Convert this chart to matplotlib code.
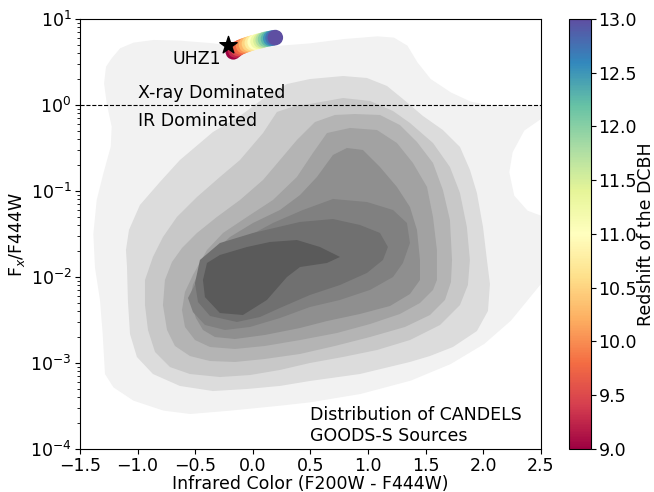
import numpy as np
import matplotlib
matplotlib.use("Agg")
import matplotlib.pyplot as plt
from matplotlib.colors import Normalize

# ----------------- Data -----------------
# KDE contour outlines of CANDELS GOODS-S sources, outermost level first
# x = infrared colour (F200W - F444W), ly = log10(Fx/F444W)
lvl1_x = [-1.225, -1.152, -1.036, -0.862, -0.630, -0.341, -0.051, 0.239, 0.5, 0.790, 1.080, 1.225, 1.341,
          1.428, 1.543, 1.717, 1.891, 2.123, 2.297, 2.5, 2.5, 2.355, 2.254, 2.225, 2.268, 2.384, 2.5, 2.5,
          2.239, 2.007, 1.717, 1.370, 0.935, 0.5, 0.239, -0.196, -0.543, -0.775, -1.036, -1.210, -1.283,
          -1.303, -1.326, -1.370, -1.384, -1.355, -1.297, -1.233, -1.225, -1.268, -1.291, -1.274]
lvl1_ly = [0.543, 0.659, 0.725, 0.756, 0.748, 0.717, 0.659, 0.690, 0.717, 0.767, 0.798, 0.783, 0.690,
           0.496, 0.302, 0.147, 0.039, -0.019, -0.019, -0.004, -0.163, -0.298, -0.550, -0.783, -1.054, -1.229,
           -1.287, -2.081, -2.508, -2.779, -3.012, -3.205, -3.360, -3.457, -3.496, -3.554, -3.593, -3.554,
           -3.438, -3.283, -3.128, -2.663, -2.275, -1.888, -1.5, -1.105, -0.795, -0.484, -0.252, 0.019,
           0.252, 0.446]

lvl2_x = [-1.101, -1.075, -0.980, -0.806, -0.633, -0.346, -0.112, 0.122, 0.296, 0.495, 0.782, 0.990, 1.164,
          1.302, 1.476, 1.649, 1.797, 1.884, 1.944, 1.997, 2.031, 2.057, 2.040, 1.944, 1.736, 1.536, 1.363,
          0.929, 0.495, 0.234, -0.051, -0.346, -0.633, -0.867, -1.006, -1.066, -1.084, -1.092]
lvl2_ly = [-1.686, -1.453, -1.163, -0.895, -0.640, -0.314, -0.128, 0.105, 0.244, 0.302, 0.337, 0.314, 0.221,
           0.070, -0.128, -0.291, -0.488, -0.756, -1.023, -1.419, -1.802, -2.081, -2.395, -2.628, -2.814,
           -2.919, -2.988, -3.128, -3.209, -3.267, -3.302, -3.326, -3.267, -3.128, -2.930, -2.663, -2.279,
           -1.884]

lvl3_x = [0.088, 0.209, 0.365, 0.495, 0.782, 1.016, 1.216, 1.363, 1.563, 1.710, 1.797, 1.857, 1.883, 1.866,
          1.797, 1.624, 1.363, 1.077, 0.782, 0.495, 0.235, -0.025, -0.286, -0.546, -0.719, -0.849, -0.910,
          -0.936, -0.936, -0.867, -0.780, -0.659, -0.485, -0.286, -0.112]
lvl3_ly = [-0.326, -0.081, -0.012, 0.012, 0.081, 0.047, -0.070, -0.209, -0.442, -0.721, -1.023, -1.419,
           -1.802, -2.093, -2.326, -2.558, -2.733, -2.849, -2.930, -3.000, -3.081, -3.140, -3.163, -3.128,
           -3.047, -2.872, -2.616, -2.326, -2.035, -1.767, -1.535, -1.302, -1.070, -0.837, -0.640]

lvl4_x = [0.382, 0.539, 0.712, 0.886, 1.103, 1.276, 1.424, 1.563, 1.649, 1.710, 1.728, 1.719, 1.667, 1.537,
          1.320, 1.016, 0.712, 0.409, 0.105, -0.155, -0.372, -0.546, -0.676, -0.745, -0.780, -0.763, -0.702,
          -0.615, -0.485, -0.312, -0.112, 0.088, 0.235]
lvl4_ly = [-0.407, -0.198, -0.116, -0.105, -0.116, -0.233, -0.430, -0.674, -0.988, -1.337, -1.802, -2.058,
           -2.267, -2.442, -2.581, -2.698, -2.802, -2.895, -2.953, -2.988, -2.977, -2.919, -2.802, -2.616,
           -2.326, -2.035, -1.826, -1.663, -1.488, -1.302, -1.105, -0.872, -0.640]

lvl5_x = [0.521, 0.643, 0.843, 1.077, 1.250, 1.389, 1.511, 1.563, 1.597, 1.597, 1.563, 1.450, 1.276, 1.016,
          0.730, 0.409, 0.105, -0.155, -0.372, -0.502, -0.589, -0.615, -0.589, -0.520, -0.398, -0.259, -0.051,
          0.174, 0.382]
lvl5_ly = [-0.558, -0.326, -0.267, -0.291, -0.442, -0.674, -0.953, -1.302, -1.686, -2.035, -2.151, -2.302,
           -2.430, -2.547, -2.651, -2.733, -2.802, -2.837, -2.814, -2.733, -2.581, -2.384, -2.174, -1.977,
           -1.686, -1.488, -1.302, -1.105, -0.837]

lvl6_x = [0.409, 0.556, 0.695, 0.816, 0.955, 1.103, 1.250, 1.363, 1.424, 1.450, 1.450, 1.363, 1.190, 0.929,
          0.643, 0.409, 0.105, -0.155, -0.329, -0.433, -0.494, -0.546, -0.520, -0.459, -0.347, -0.199, 0.001,
          0.235]
lvl6_ly = [-1.047, -0.837, -0.581, -0.500, -0.523, -0.721, -0.953, -1.186, -1.453, -1.802, -2.035, -2.198,
           -2.337, -2.430, -2.512, -2.593, -2.674, -2.721, -2.698, -2.616, -2.477, -2.267, -2.093, -1.919,
           -1.721, -1.535, -1.372, -1.221]

lvl7_x = [-0.459, -0.347, -0.225, -0.051, 0.174, 0.434, 0.695, 0.990, 1.216, 1.337, 1.363, 1.302, 1.216,
          1.016, 0.756, 0.495, 0.235, -0.025, -0.242, -0.416, -0.520, -0.563]
lvl7_ly = [-1.977, -1.826, -1.686, -1.535, -1.372, -1.221, -1.093, -1.128, -1.221, -1.372, -1.605, -1.837,
           -2.000, -2.151, -2.267, -2.349, -2.477, -2.581, -2.616, -2.558, -2.407, -2.244]

lvl8_x = [-0.502, -0.459, -0.286, 0.001, 0.409, 0.695, 0.929, 1.103, 1.172, 1.129, 0.990, 0.756, 0.495,
          0.235, 0.062, -0.138, -0.372, -0.476]
lvl8_ly = [-2.070, -1.802, -1.605, -1.488, -1.360, -1.326, -1.395, -1.488, -1.651, -1.802, -1.953, -2.093,
           -2.209, -2.360, -2.465, -2.523, -2.453, -2.291]

lvl9_x = [-0.433, -0.398, -0.286, -0.051, 0.148, 0.382, 0.582, 0.756, 0.643, 0.409, 0.296, 0.122, -0.086,
          -0.286, -0.416]
lvl9_ly = [-2.035, -1.837, -1.744, -1.651, -1.593, -1.570, -1.651, -1.767, -1.837, -1.884, -2.000, -2.267,
           -2.442, -2.419, -2.233]

contour_x = [lvl1_x, lvl2_x, lvl3_x, lvl4_x, lvl5_x, lvl6_x, lvl7_x, lvl8_x, lvl9_x]
contour_ly = [lvl1_ly, lvl2_ly, lvl3_ly, lvl4_ly, lvl5_ly, lvl6_ly, lvl7_ly, lvl8_ly, lvl9_ly]

# UHZ1-like DCBH track as a function of redshift
dcbh_z = [9.0, 9.25, 9.5, 9.75, 10.0, 10.25, 10.5, 10.75, 11.0, 11.25, 11.5, 11.75, 12.0, 12.25, 12.5, 12.75, 13.0]
dcbh_color = [-0.17, -0.15, -0.13, -0.105, -0.08, -0.055, -0.03, -0.005, 0.02, 0.045, 0.07, 0.09, 0.11,
              0.135, 0.155, 0.175, 0.195]
dcbh_ratio = [4.15, 4.35, 4.55, 4.72, 4.88, 5.02, 5.15, 5.27, 5.38, 5.5, 5.6, 5.7, 5.8, 5.88, 5.95, 6.02, 6.08]

uhz1_color = -0.22
uhz1_ratio = 5.0

# ----------------- Plot -----------------
shades = ['#f2f2f2', '#dcdcdc', '#c8c8c8', '#b4b4b4', '#a2a2a2', '#8f8f8f', '#808080', '#707070', '#5a5a5a']

fig = plt.figure(figsize=(6.54, 4.92), dpi=100)
ax = fig.add_axes([0.1223, 0.0874, 0.7049, 0.874])
cax = fig.add_axes([0.870, 0.0874, 0.0335, 0.874])

for cx, cly, shade in zip(contour_x, contour_ly, shades):
    ax.fill(cx, 10 ** np.array(cly), color=shade, lw=0)

ax.axhline(1, color='k', ls='--', lw=0.8)

sc = ax.scatter(dcbh_color, dcbh_ratio, c=dcbh_z, cmap='Spectral', norm=Normalize(9, 13), s=125, lw=0, zorder=3)
ax.scatter([uhz1_color], [uhz1_ratio], marker='*', color='k', s=170, zorder=4)

fs = 12.5
ax.text(-0.49, 3.0, 'UHZ1', fontsize=fs, ha='center', va='baseline')
ax.text(-1.0, 1.22, 'X-ray Dominated', fontsize=fs, va='baseline')
ax.text(-1.0, 0.57, 'IR Dominated', fontsize=fs, va='baseline')
ax.text(0.5, 1.25e-4, 'Distribution of CANDELS\nGOODS-S Sources', fontsize=fs, va='baseline')

ax.set_yscale('log')
ax.set_xlim(-1.5, 2.5)
ax.set_ylim(1e-4, 1e1)
ax.set_xlabel('Infrared Color (F200W - F444W)', fontsize=fs, labelpad=0)
ax.set_ylabel(r'F$_x$/F444W', fontsize=fs, labelpad=2)
ax.tick_params(labelsize=fs, pad=2.5)

cb = fig.colorbar(sc, cax=cax)
cb.set_label('Redshift of the DCBH', fontsize=fs, labelpad=0)
cb.ax.tick_params(labelsize=fs, pad=2)

fig.savefig('out.png', dpi=100)
